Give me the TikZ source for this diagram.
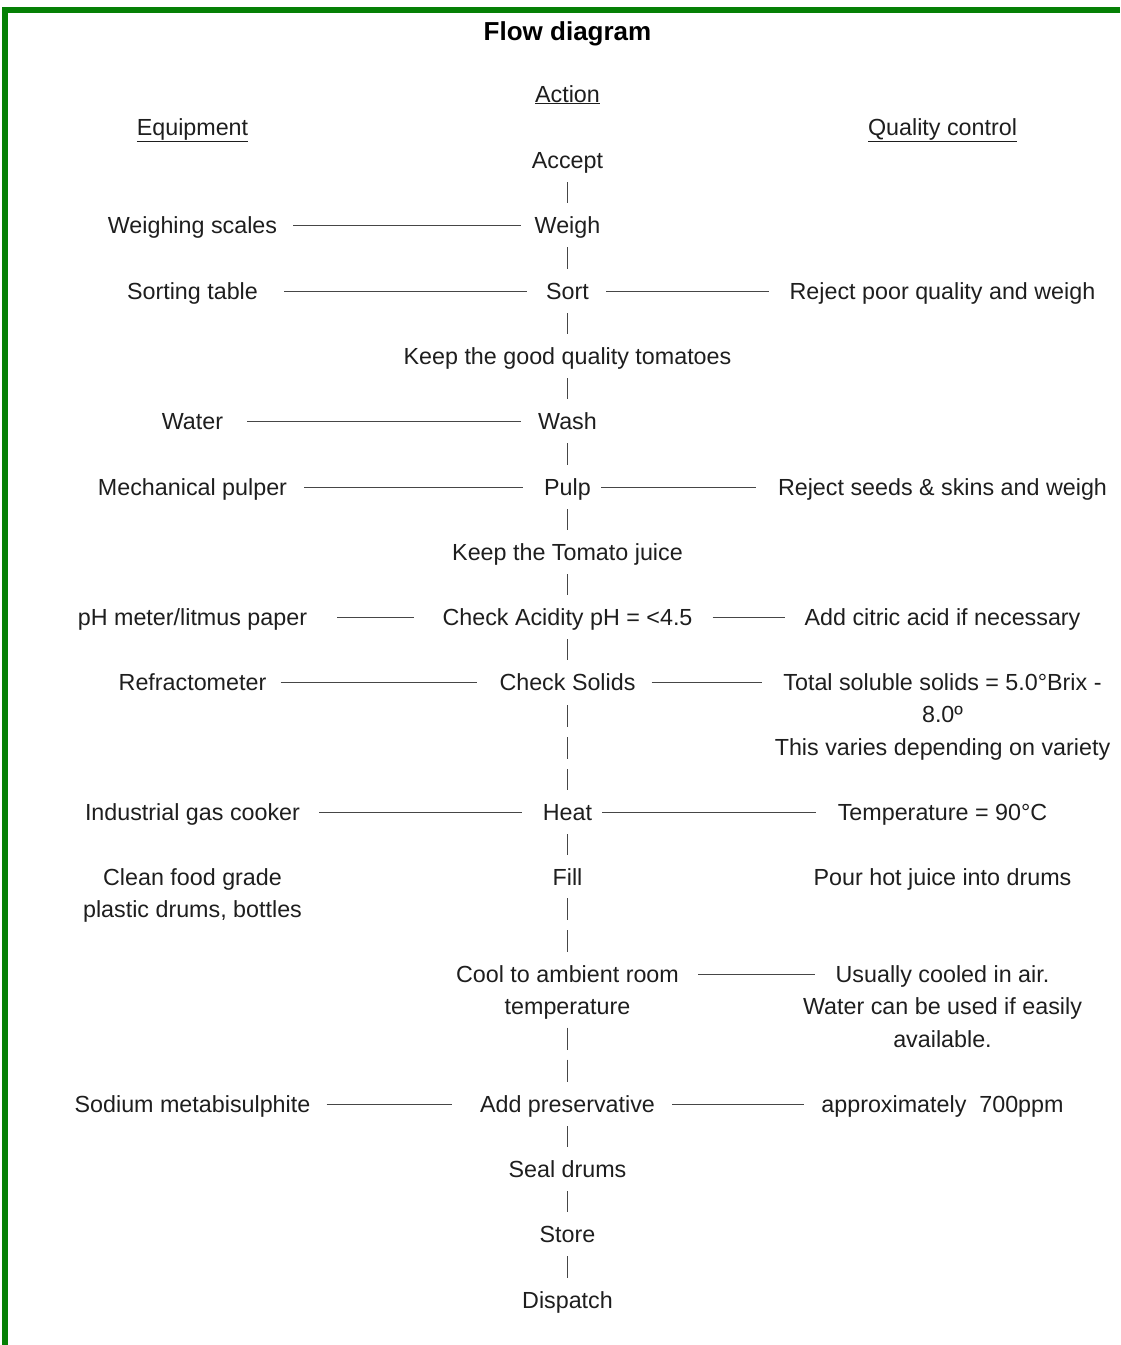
\documentclass[tikz,border=0pt]{standalone}
\usepackage{fontspec}
\setmainfont{Liberation Sans}
\usetikzlibrary{calc}
\definecolor{frameGreen}{RGB}{5,128,5}
\definecolor{inkgrey}{RGB}{30,30,30}
\definecolor{rulegrey}{RGB}{70,70,70}
\tikzset{
    % Basic text styles
    txt/.style={inner sep=0pt, text=inkgrey, font=\fontsize{23.3}{32.5}\selectfont},
    cell/.style={txt, text height=19pt, text depth=3pt},
    % multi-line texts sit on the baseline of their last line
    wrap/.style={txt, align=center, anchor=base},
    headtxt/.style={cell},
    titletxt/.style={inner sep=0pt, text=black, font=\fontsize{26}{30}\selectfont\bfseries},
    % Connector styles
    hline/.style={line width=1pt, rulegrey},
    vline/.style={line width=1pt, rulegrey, shorten <=11pt, shorten >=11pt},
    vdash/.style={vline, dash pattern=on 22pt off 10pt},
    greenframe/.style={line width=6pt, frameGreen},
}

\begin{document}
\begin{tikzpicture}[x=1pt,y=-1pt]
  \useasboundingbox (0,0) rectangle (1120,1345);
  \draw[greenframe] (5,1345) -- (5,10) -- (1120,10);

  % headings
  \node[titletxt] (title) at (567.5,34) {Flow diagram};
  \node[headtxt] (hact) at (567.5,94)  {\underline{Action}};
  \node[headtxt] (hequ) at (192.5,127) {\underline{Equipment}};
  \node[headtxt] (hqc)  at (942.5,127) {\underline{Quality control}};

  % action column
  \node[cell] (accept)   at (567.5,160)  {Accept};
  \node[cell] (weigh)    at (567.5,225)  {Weigh};
  \node[cell] (sort)     at (567.5,291)  {Sort};
  \node[cell] (keep)     at (567.5,356)  {Keep the good quality tomatoes};
  \node[cell] (wash)     at (567.5,421)  {Wash};
  \node[cell] (pulp)     at (567.5,487)  {Pulp};
  \node[cell] (juice)    at (567.5,552)  {Keep the Tomato juice};
  \node[cell] (acid)     at (567.5,617)  {Check Acidity pH = <4.5};
  \node[cell] (solids)   at (567.5,682)  {Check Solids};
  \node[cell] (heat)     at (567.5,812)  {Heat};
  \node[cell] (fill)     at (567.5,877)  {Fill};
  \node[wrap] (cool)     at (567.5,1014.5) {Cool to ambient room\\temperature};
  \node[cell] (pres)     at (567.5,1104) {Add preservative};
  \node[cell] (seal)     at (567.5,1169) {Seal drums};
  \node[cell] (store)    at (567.5,1234) {Store};
  \node[cell] (dispatch) at (567.5,1300) {Dispatch};

  % equipment column
  \node[cell] (scales)  at (192.5,225)  {Weighing scales};
  \node[cell] (table)   at (192.5,291)  {Sorting table};
  \node[cell] (water)   at (192.5,421)  {Water};
  \node[cell] (pulper)  at (192.5,487)  {Mechanical pulper};
  \node[cell] (phmeter) at (192.5,617)  {pH meter/litmus paper};
  \node[cell] (refrac)  at (192.5,682)  {Refractometer};
  \node[cell] (cooker)  at (192.5,812)  {Industrial gas cooker};
  \node[wrap] (drums)   at (192.5,917.5) {Clean food grade\\plastic drums, bottles};
  \node[cell] (sodium)  at (192.5,1104) {Sodium metabisulphite};

  % quality control column
  \node[cell] (reject)   at (942.5,291)  {Reject poor quality and weigh};
  \node[cell] (rejseeds) at (942.5,487)  {Reject seeds \& skins and weigh};
  \node[cell] (citric)   at (942.5,617)  {Add citric acid if necessary};
  \node[wrap] (tss)      at (942.5,755)  {Total soluble solids = 5.0°Brix -\\8.0º\\This varies depending on variety};
  \node[cell] (temp)     at (942.5,812)  {Temperature = 90°C};
  \node[cell] (pour)     at (942.5,877)  {Pour hot juice into drums};
  \node[wrap] (aircool)  at (942.5,1047) {Usually cooled in air.\\Water can be used if easily\\available.};
  \node[cell] (ppm)      at (942.5,1104) {approximately\ \ 700ppm};

  % process flow
  \draw[vline] (accept) -- (weigh);
  \draw[vline] (weigh) -- (sort);
  \draw[vline] (sort) -- (keep);
  \draw[vline] (keep) -- (wash);
  \draw[vline] (wash) -- (pulp);
  \draw[vline] (pulp) -- (juice);
  \draw[vline] (juice) -- (acid);
  \draw[vline] (acid) -- (solids);
  \draw[vdash, shorten <=12pt] (solids) -- (heat);
  \draw[vline] (heat) -- (fill);
  \draw[vdash, shorten <=10pt, shorten >=13pt] (fill.south) -- (cool.north);
  \draw[vdash, shorten <=8pt] (cool.south) -- (pres.north);
  \draw[vline] (pres) -- (seal);
  \draw[vline] (seal) -- (store);
  \draw[vline] (store) -- (dispatch);

  % equipment links
  \draw[hline, shorten <=16pt, shorten >=13pt] (scales.east) -- (weigh.west);
  \draw[hline, shorten <=26pt, shorten >=19pt] (table.east) -- (sort.west);
  \draw[hline, shorten <=24pt, shorten >=17pt] (water.east) -- (wash.west);
  \draw[hline, shorten <=17pt, shorten >=21pt] (pulper.east) -- (pulp.west);
  \draw[hline, shorten <=30pt, shorten >=28pt] (phmeter.east) -- (acid.west);
  \draw[hline, shorten <=14pt, shorten >=22pt] (refrac.east) -- (solids.west);
  \draw[hline, shorten <=19pt, shorten >=21pt] (cooker.east) -- (heat.west);
  \draw[hline, shorten <=16pt, shorten >=28pt] (sodium.east) -- (pres.west);

  % quality control links
  \draw[hline, shorten <=17pt, shorten >=20pt] (sort.east) -- (reject.west);
  \draw[hline, shorten <=10pt, shorten >=22pt] (pulp.east) -- (rejseeds.west);
  \draw[hline, shorten <=20pt, shorten >=19pt] (acid.east) -- (citric.west);
  \draw[hline, shorten <=16pt, shorten >=13pt] (solids.east) -- ([yshift=73pt]tss.base west);
  \draw[hline, shorten <=10pt, shorten >=22pt] (heat.east) -- (temp.west);
  \draw[hline, shorten <=19pt, shorten >=-12pt] ([yshift=40.5pt]cool.base east) -- ([yshift=73pt]aircool.base west);
  \draw[hline, shorten <=17pt, shorten >=17pt] (pres.east) -- (ppm.west);
\end{tikzpicture}
\end{document}
